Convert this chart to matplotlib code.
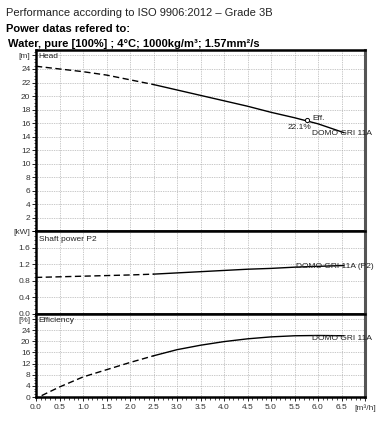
#!/usr/bin/env python3
import matplotlib
matplotlib.use('Agg')
import matplotlib.pyplot as plt
from matplotlib.ticker import MultipleLocator

plt.rcParams['font.family'] = ['Liberation Sans', 'DejaVu Sans']

# pump curve data (flow in m3/h)
flow = [0.0, 0.5, 1.0, 1.5, 2.0, 2.5, 3.0, 3.5, 4.0, 4.5, 5.0, 5.5, 6.0, 6.55]
head = [24.4, 24.0, 23.6, 23.1, 22.4, 21.7, 20.9, 20.1, 19.3, 18.5, 17.6, 16.8, 15.9, 14.6]
power = [0.88, 0.895, 0.91, 0.925, 0.94, 0.96, 0.99, 1.02, 1.05, 1.08, 1.10, 1.13, 1.15, 1.17]
eff_flow = [0.12, 0.5, 1.0, 1.5, 2.0, 2.5, 3.0, 3.5, 4.0, 4.5, 5.0, 5.5, 6.0, 6.55]
eff = [0.5, 3.6, 7.2, 9.8, 12.4, 14.8, 17.0, 18.6, 19.9, 20.9, 21.6, 22.0, 22.1, 22.0]
n_dash = 6  # points 0..5 (up to 2.5 m3/h) drawn dashed

bep_flow, bep_head, bep_eff = 5.76, 16.4, 22.1
pump = 'DOMO GRI 11A'

head_ticks = list(range(0, 27, 2))
head_labels = [''] + [str(v) for v in head_ticks[1:-1]] + ['[m]']
power_ticks = [0.0, 0.4, 0.8, 1.2, 1.6, 2.0]
power_labels = ['0.0', '0.4', '0.8', '1.2', '1.6', '[kW]']
eff_ticks = list(range(0, 29, 4))
eff_labels = [str(v) for v in eff_ticks[:-1]] + ['[%]']
x_ticks = [i * 0.5 for i in range(15)]
x_labels = ['%.1f' % v for v in x_ticks[:-1]] + ['[m³/h]']

W, H = 379, 423
fig = plt.figure(figsize=(W / 100, H / 100), dpi=100)

def fx(px):
    return px / W

def fy(py):
    return 1 - py / H

left, right = 36, 365
axH = fig.add_axes((fx(left), fy(231.5), fx(right - left), fy(50) - fy(231.5)))
axP = fig.add_axes((fx(left), fy(313.5), fx(right - left), fy(231.5) - fy(313.5)))
axE = fig.add_axes((fx(left), fy(397), fx(right - left), fy(313.5) - fy(397)))

fs = 6.0
tick_font = dict(fontsize=fs, color='#333333')
txt = dict(fontsize=fs, color='#222222', va='center')
dash = (0, (4.5, 2.5))

for ax in (axH, axP, axE):
    ax.set_xlim(0, 7.0)
    ax.xaxis.set_major_locator(MultipleLocator(0.5))
    ax.grid(True, which='major', color='#a5a5a5', lw=0.55, ls=(0, (1, 1.3)))
    ax.set_axisbelow(True)
    for s in ('left', 'top', 'bottom'):
        ax.spines[s].set_linewidth(1.8)
        ax.spines[s].set_color('black')
    ax.spines['right'].set_linewidth(2.2)
    ax.spines['right'].set_color('#555555')
    ax.tick_params(axis='y', which='major', direction='out', length=3, width=0.6, pad=1)
    ax.tick_params(axis='y', which='minor', direction='out', length=1.6, width=0.5)

for ax in (axH, axP):
    ax.tick_params(axis='x', which='both', bottom=False, labelbottom=False)

# head panel
axH.set_ylim(0, 26.8)
axH.set_yticks(head_ticks)
axH.set_yticklabels(head_labels, **tick_font)
axH.yaxis.set_minor_locator(MultipleLocator(0.5))
axH.plot(flow[:n_dash], head[:n_dash], color='black', lw=1.0, ls=dash)
axH.plot(flow[n_dash - 1:], head[n_dash - 1:], color='black', lw=1.0)
axH.plot([bep_flow], [bep_head], marker='o', ms=3, mfc='white', mec='black', mew=0.7)
axH.text(5.88, 16.75, 'Eff.', **txt)
axH.text(5.36, 15.4, '%.1f%%' % bep_eff, **txt)
axH.text(5.88, 14.4, pump, **txt)
axH.text(0.06, 25.8, 'Head', **txt)

# shaft power panel
axP.set_ylim(0, 2.0)
axP.set_yticks(power_ticks)
axP.set_yticklabels(power_labels, **tick_font)
axP.yaxis.set_minor_locator(MultipleLocator(0.1))
axP.plot(flow[:n_dash], power[:n_dash], color='black', lw=1.0, ls=dash)
axP.plot(flow[n_dash - 1:], power[n_dash - 1:], color='black', lw=1.0)
axP.text(5.53, 1.15, pump + ' (P2)', **txt)
axP.text(0.06, 1.8, 'Shaft power P2', **txt)

# efficiency panel
axE.set_ylim(0, 30)
axE.set_yticks(eff_ticks)
axE.set_yticklabels(eff_labels, **tick_font)
axE.yaxis.set_minor_locator(MultipleLocator(1))
axE.set_xticks(x_ticks)
axE.set_xticklabels(x_labels, **tick_font)
axE.xaxis.set_minor_locator(MultipleLocator(0.1))
axE.tick_params(axis='x', which='major', direction='out', length=3, width=0.6, pad=2)
axE.tick_params(axis='x', which='minor', direction='out', length=1.8, width=0.5)
axE.plot(eff_flow[:n_dash], eff[:n_dash], color='black', lw=1.0, ls=dash)
axE.plot(eff_flow[n_dash - 1:], eff[n_dash - 1:], color='black', lw=1.0)
axE.text(5.88, 20.9, pump, **txt)
axE.text(0.06, 27.4, 'Efficiency', **txt)

# header text
fig.text(fx(6), fy(13), 'Performance according to ISO 9906:2012 \u2013 Grade 3B',
         fontsize=8.0, color='#222222', va='center')
fig.text(fx(6), fy(29), 'Power datas refered to:', fontsize=8.0, fontweight='bold',
         color='black', va='center')
fig.text(fx(8), fy(44), 'Water, pure [100%] ; 4°C; 1000kg/m³; 1.57mm²/s', fontsize=8.0,
         fontweight='bold', color='black', va='center')

fig.savefig('out.png', dpi=100)
